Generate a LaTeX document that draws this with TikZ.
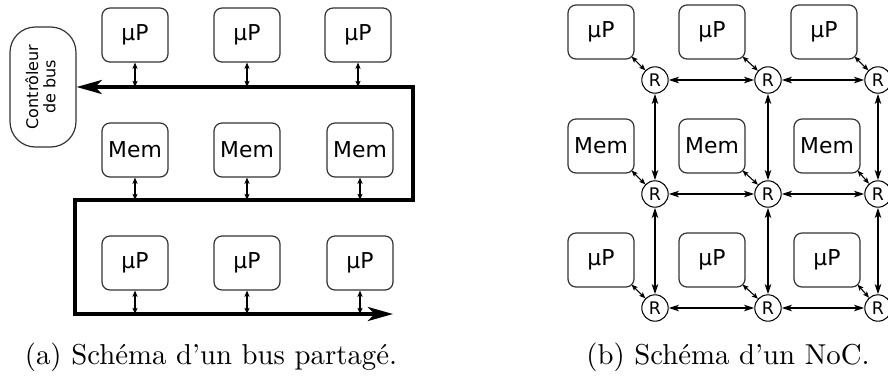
\documentclass[tikz,border=0pt]{standalone}
\usepackage{fontspec}
\newfontfamily\dvsans{DejaVu Sans}
\usetikzlibrary{arrows.meta}
\begin{document}
\begin{tikzpicture}[x=0.375pt,y=-0.375pt,
  box/.style={draw=black!80, line width=0.45pt, rounded corners=3pt,
    minimum width=24.75pt, minimum height=20.25pt, inner sep=0pt,
    font=\dvsans\fontsize{8.2}{9}\selectfont},
  ctrlbox/.style={draw=black!80, line width=0.45pt, rounded corners=9.5pt,
    minimum width=24.75pt, minimum height=45pt, inner sep=0pt,
    font=\dvsans\fontsize{6}{6.4}\selectfont},
  router/.style={draw=black, line width=0.4pt, circle, minimum size=9.9pt,
    inner sep=0pt, font=\dvsans\fontsize{6.5}{7}\selectfont},
  bus/.style={line width=1.15pt, line join=miter,
    {Stealth[length=9.5pt,width=5.3pt,inset=2.6pt]}-{Stealth[length=9.5pt,width=5.3pt,inset=2.6pt]}},
  small/.style={line width=0.4pt,
    {Stealth[length=2.3pt,width=1.9pt,inset=0.5pt]}-{Stealth[length=2.3pt,width=1.9pt,inset=0.5pt]}},
  link/.style={line width=0.7pt,
    {Stealth[length=3.8pt,width=2.4pt,inset=1pt]}-{Stealth[length=3.8pt,width=2.4pt,inset=1pt]}},
  caption/.style={font=\fontsize{10.8}{13}\selectfont}
]
\useasboundingbox (0,0) rectangle (888,385);

% ---------- (a) shared bus ----------
\node[box] (a1) at (135,35) {µP};
\node[box] (a2) at (247,35) {µP};
\node[box] (a3) at (358,35) {µP};
\node[box] (m1) at (135,150) {Mem};
\node[box] (m2) at (247,150) {Mem};
\node[box] (m3) at (360,150) {Mem};
\node[box] (c1) at (135,263) {µP};
\node[box] (c2) at (247,263) {µP};
\node[box] (c3) at (360,263) {µP};
\node[ctrlbox] (ctrl) at (43,87) {\rotatebox{90}{\begin{tabular}{@{}c@{}}Contrôleur\\de bus\end{tabular}}};

\coordinate (t1) at (413,87);
\coordinate (t2) at (413,200);
\coordinate (t3) at (75,200);
\coordinate (t4) at (75,314);
\coordinate (t5) at (393,314);
\draw[bus] (ctrl.east) -- (t1) -- (t2) -- (t3) -- (t4) -- (t5);

\foreach \n in {a1,a2,a3} \draw[small] (\n) -- (\n |- t1);
\foreach \n in {m1,m2,m3} \draw[small] (\n) -- (\n |- t2);
\foreach \n in {c1,c2,c3} \draw[small] (\n) -- (\n |- t4);

\node[caption] (capa) at (211,357) {(a) Schéma d'un bus partagé.};

% ---------- (b) NoC ----------
\node[box] (p11) at (601,32) {µP};
\node[box] (p12) at (712,32) {µP};
\node[box] (p13) at (824,32) {µP};
\node[box] (p21) at (601,146) {Mem};
\node[box] (p22) at (712,146) {Mem};
\node[box] (p23) at (827,146) {Mem};
\node[box] (p31) at (601,260) {µP};
\node[box] (p32) at (712,260) {µP};
\node[box] (p33) at (827,260) {µP};

\node[router] (r11) at (655,80) {R};
\node[router] (r12) at (768,80) {R};
\node[router] (r13) at (878,80) {R};
\node[router] (r21) at (655,194) {R};
\node[router] (r22) at (768,194) {R};
\node[router] (r23) at (878,194) {R};
\node[router] (r31) at (655,308) {R};
\node[router] (r32) at (768,308) {R};
\node[router] (r33) at (878,308) {R};

\foreach \i in {1,2,3}{
  \foreach \j in {1,2,3}{
    \draw[small] ([shift={(-3,-3)}]p\i\j.south east) -- (r\i\j);
  }
  \draw[link] (r\i1) -- (r\i2);
  \draw[link] (r\i2) -- (r\i3);
  \draw[link] (r1\i) -- (r2\i);
  \draw[link] (r2\i) -- (r3\i);
}

\node[caption] (capb) at (728,357) {(b) Schéma d'un NoC.};
\end{tikzpicture}
\end{document}
